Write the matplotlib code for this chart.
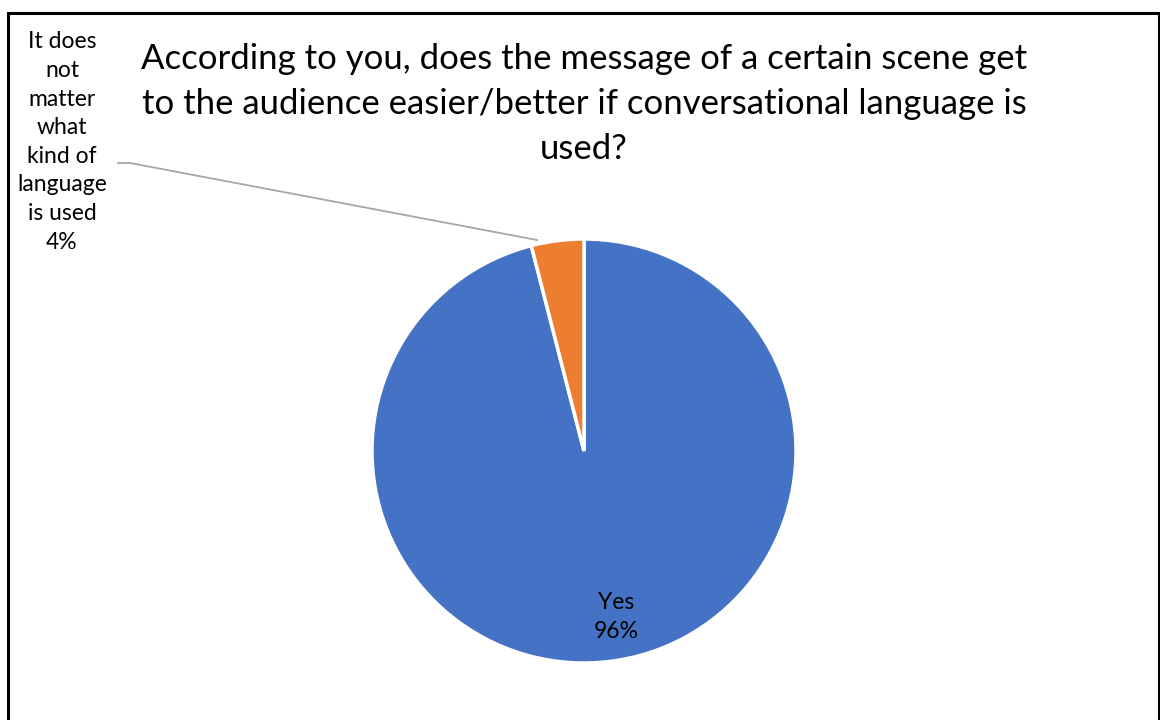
import matplotlib
matplotlib.use("Agg")
import matplotlib.pyplot as plt
from matplotlib.patches import Rectangle
from matplotlib.lines import Line2D

categories = ["Yes", "It does\nnot\nmatter\nwhat\nkind of\nlanguage\nis used"]
values = [96, 4]
colors = ["#4472C4", "#ED7D31"]
title = ("According to you, does the message of a certain scene get\n"
         "to the audience easier/better if conversational language is\n"
         "used?")

W, H = 1160, 720
fig = plt.figure(figsize=(W / 100, H / 100), dpi=100)
plt.rcParams['font.family'] = ['Lato', 'DejaVu Sans']

# frame
fig.add_artist(Rectangle((8 / W, -0.05), (1159 - 8) / W, (720 - 13) / H + 0.05,
                         transform=fig.transFigure, fill=False,
                         edgecolor="black", linewidth=2.2))

cx, cy, r = 584, 451, 212
ax = fig.add_axes([(cx - r) / W, (H - cy - r) / H, 2 * r / W, 2 * r / H])
wedges, _ = ax.pie(values, colors=colors, startangle=90, counterclock=False,
                   radius=1, wedgeprops=dict(edgecolor="white", linewidth=2.5))
ax.set_xlim(-1, 1)
ax.set_ylim(-1, 1)
ax.set_aspect("equal")
ax.axis("off")

total = sum(values)
# Yes label inside
fig.text(616 / W, 1 - 617 / H, f"{categories[0]}\n{round(values[0] / total * 100)}%",
         ha="center", va="center", fontsize=16.5, linespacing=1.45)

# outside label
fig.text(62 / W, 1 - 142 / H, f"{categories[1]}\n{round(values[1] / total * 100)}%",
         ha="center", va="center", fontsize=16.5, linespacing=1.45)
fig.add_artist(Line2D([118 / W, 130 / W, 537 / W],
                      [1 - 163 / H, 1 - 163 / H, 1 - 240 / H],
                      transform=fig.transFigure, color="#A6A6A6", linewidth=1.3))

fig.text(584 / W, 1 - 104 / H, title, ha="center", va="center",
         fontsize=25, linespacing=1.5)

fig.savefig("out.png", dpi=100)
